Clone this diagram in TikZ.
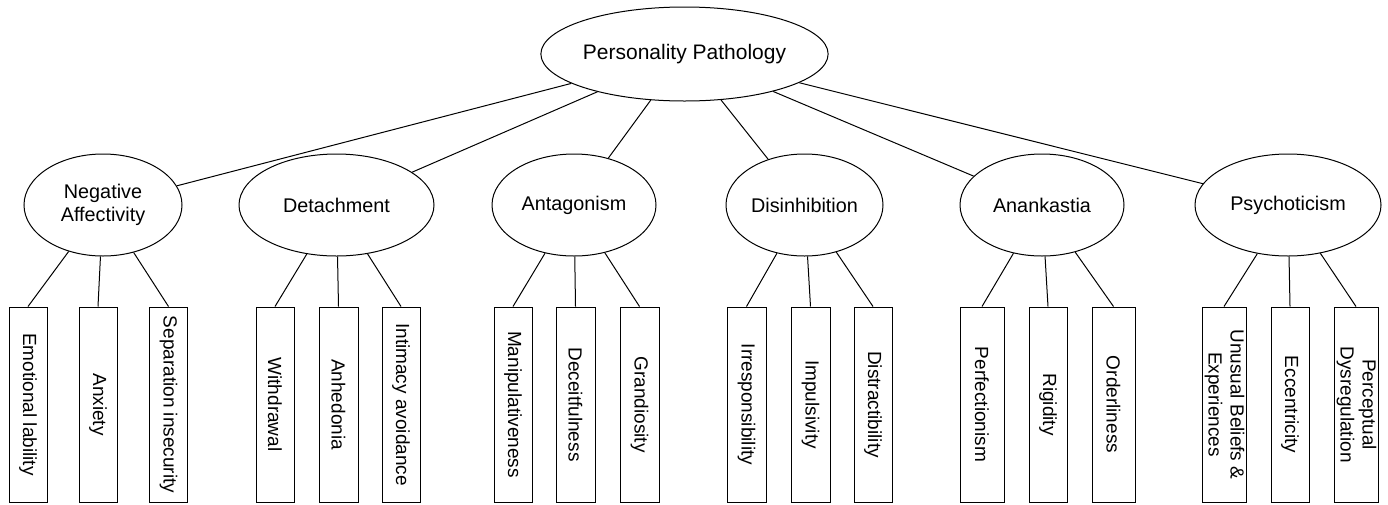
\documentclass[tikz,border=0pt]{standalone}
\usepackage{fontspec}
\setmainfont{Liberation Sans}
\usetikzlibrary{shapes.geometric}
\begin{document}
\begin{tikzpicture}[x=1pt,y=-1pt,
  box/.style={draw=black, line width=1pt, inner sep=0pt, text=black},
  oval/.style={box, ellipse, font=\fontsize{19.8}{23}\selectfont, align=center},
  facet/.style={box, rectangle, minimum height=195pt, font=\fontsize{19}{22}\selectfont},
  link/.style={line width=1pt, draw=black}]
\useasboundingbox (0,0) rectangle (1388,504);
% top
\node[oval, minimum width=287pt, minimum height=94pt, font=\fontsize{21}{24}\selectfont] (top) at (684.5,54) {Personality Pathology};
% domains
\node[oval, minimum width=158pt, minimum height=102pt] (na) at (103,205) {Negative\\Affectivity};
\node[oval, minimum width=195pt, minimum height=102pt] (de) at (336.5,205) {Detachment};
\node[oval, minimum width=164pt, minimum height=102pt] (an) at (574,205) {Antagonism};
\node[oval, minimum width=157pt, minimum height=102pt] (dis) at (804.5,205) {Disinhibition};
\node[oval, minimum width=164pt, minimum height=102pt] (ana) at (1042,205) {Anankastia};
\node[oval, minimum width=186pt, minimum height=102pt] (ps) at (1288,205) {Psychoticism};
% facets
\node[facet, minimum width=38pt] (el) at (28,404.5) {\rotatebox{-90}{Emotional lability}};
\node[facet, minimum width=38pt] (ax) at (98,404.5) {\rotatebox{-90}{Anxiety}};
\node[facet, minimum width=38pt] (si) at (168.5,404.5) {\rotatebox{-90}{Separation insecurity}};
\node[facet, minimum width=38pt] (wd) at (275,404.5) {\rotatebox{-90}{Withdrawal}};
\node[facet, minimum width=39pt] (ah) at (338.5,404.5) {\rotatebox{-90}{Anhedonia}};
\node[facet, minimum width=38pt] (ia) at (401,404.5) {\rotatebox{-90}{Intimacy avoidance}};
\node[facet, minimum width=38pt] (mp) at (513,404.5) {\rotatebox{-90}{Manipulativeness}};
\node[facet, minimum width=39pt] (dc) at (575.5,404.5) {\rotatebox{-90}{Deceitfulness}};
\node[facet, minimum width=39pt] (gr) at (639.5,404.5) {\rotatebox{-90}{Grandiosity}};
\node[facet, minimum width=39pt] (ir) at (746.5,404.5) {\rotatebox{-90}{Irresponsibility}};
\node[facet, minimum width=39pt] (im) at (810.5,404.5) {\rotatebox{-90}{Impulsivity}};
\node[facet, minimum width=38pt] (dt) at (873,404.5) {\rotatebox{-90}{Distractibility}};
\node[facet, minimum width=44pt] (pf) at (982,404.5) {\rotatebox{-90}{Perfectionism}};
\node[facet, minimum width=38pt] (rg) at (1048,404.5) {\rotatebox{-90}{Rigidity}};
\node[facet, minimum width=43pt] (od) at (1113.5,404.5) {\rotatebox{-90}{Orderliness}};
\node[facet, minimum width=44pt] (ub) at (1224,404.5) {\rotatebox{-90}{\begin{tabular}{@{}c@{}}Unusual Beliefs \&\\Experiences\end{tabular}}};
\node[facet, minimum width=38pt] (ec) at (1290,404.5) {\rotatebox{-90}{Eccentricity}};
\node[facet, minimum width=44pt] (pd) at (1356,404.5) {\rotatebox{-90}{\begin{tabular}{@{}c@{}}Perceptual\\Dysregulation\end{tabular}}};
% connectors
\foreach \d in {na,de,an,dis,ana,ps} \draw[link] (top) -- (\d);
\draw[link] (na) -- (el.north); \draw[link] (na) -- (ax.north); \draw[link] (na) -- (si.north);
\draw[link] (de) -- (wd.north); \draw[link] (de) -- (ah.north); \draw[link] (de) -- (ia.north);
\draw[link] (an) -- (mp.north); \draw[link] (an) -- (dc.north); \draw[link] (an) -- (gr.north);
\draw[link] (dis) -- (ir.north); \draw[link] (dis) -- (im.north); \draw[link] (dis) -- (dt.north);
\draw[link] (ana) -- (pf.north); \draw[link] (ana) -- (rg.north); \draw[link] (ana) -- (od.north);
\draw[link] (ps) -- (ub.north); \draw[link] (ps) -- (ec.north); \draw[link] (ps) -- (pd.north);
\end{tikzpicture}
\end{document}
